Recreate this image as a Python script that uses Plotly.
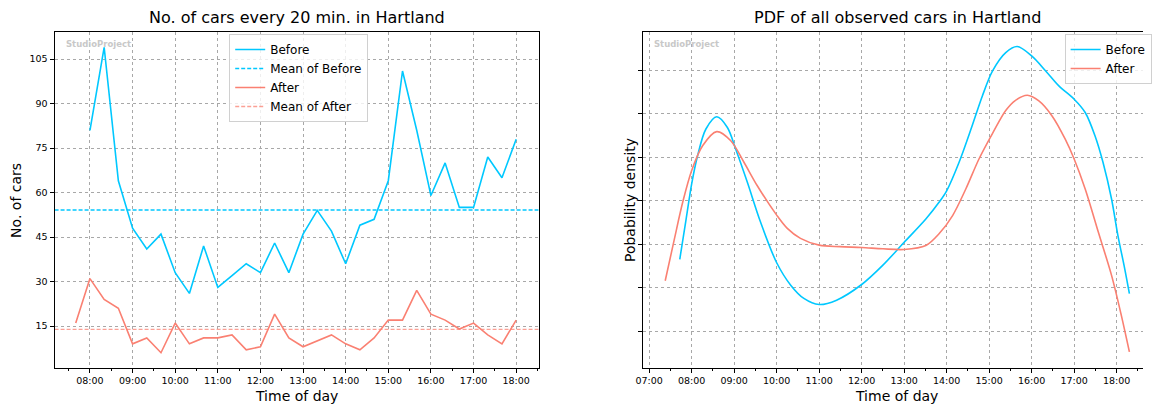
import numpy as np
import pandas as pd
import plotly.graph_objects as go

# ---------------- data ----------------
before_times = list(pd.date_range("2021-01-01 08:00", "2021-01-01 18:00", freq="20min").strftime("%H:%M"))
after_times = list(pd.date_range("2021-01-01 07:40", "2021-01-01 18:00", freq="20min").strftime("%H:%M"))

before_counts = [81, 109, 64, 48, 41, 46, 33, 26, 42, 28, 32, 36, 33, 43, 33, 46,
                 54, 47, 36, 49, 51, 64, 101, 81, 59, 70, 55, 55, 72, 65, 78]
after_counts = [16, 31, 24, 21, 9, 11, 6, 16, 9, 11, 11, 12, 7, 8, 19, 11,
                8, 10, 12, 9, 7, 11, 17, 17, 27, 19, 17, 14, 16, 12, 9, 17]

# PDF curves (time in hours, density)
pdf_before_t = [7.72, 7.87, 8.00, 8.14, 8.335, 8.59, 8.84, 9.035, 9.31, 9.62, 10.00,
                10.33, 10.64, 11.00, 11.41, 12.00, 12.50, 13.00, 13.51, 13.82, 14.00, 14.29,
                14.60, 14.84, 15.08, 15.39, 15.66, 16.00, 16.33, 16.64, 17.00, 17.26, 17.49,
                17.68, 17.88, 18.03, 18.19, 18.30]
pdf_before_v = [0.0531, 0.0717, 0.0878, 0.1008, 0.1130, 0.1186, 0.1137, 0.1038, 0.0885, 0.0702,
                0.0515, 0.0412, 0.0351, 0.0323, 0.0343, 0.0415, 0.0504, 0.0609, 0.0716,
                0.0793, 0.0846, 0.0976, 0.1145, 0.1282, 0.1397, 0.1481, 0.1509, 0.1466, 0.1397,
                0.1328, 0.1267, 0.1206, 0.1099, 0.0976, 0.0808, 0.0640, 0.0487, 0.0373]
pdf_after_t = [7.377, 7.595, 7.79, 8.00, 8.257, 8.59, 8.92, 9.23, 9.54, 10.00, 10.25, 10.56,
               11.00, 11.49, 12.00, 12.50, 13.00, 13.51, 13.82, 14.14, 14.45, 14.76, 15.08,
               15.39, 15.62, 15.90, 16.17, 16.48, 16.79, 17.00, 17.26, 17.57, 17.88, 18.11, 18.30]
pdf_after_v = [0.0432, 0.0626, 0.0794, 0.0939, 0.1053, 0.1118, 0.1076, 0.0977, 0.0870, 0.0734,
               0.0673, 0.0627, 0.0596, 0.0589, 0.0585, 0.0579, 0.0576, 0.0594, 0.0648, 0.0732,
               0.0854, 0.0992, 0.1110, 0.1215, 0.1262, 0.1285, 0.1259, 0.1190, 0.1083, 0.0992,
               0.0854, 0.0655, 0.0457, 0.0273, 0.0105]

hour_ticks = list(range(7, 19))
hour_labels = [f"{h:02d}:00" for h in hour_ticks]
count_ticks = [15, 30, 45, 60, 75, 90, 105]
density_ticks = [0.02, 0.04, 0.06, 0.08, 0.10, 0.12, 0.14]

LEFT_XRANGE = [7.17, 18.53]
BLUE = "#00c8ff"
RED = "#fa8072"
RED_LIGHT = "rgba(250,128,114,0.75)"
FONT = "DejaVu Sans"
W, H = 1152, 405


def to_hours(s):
    h, m = s.split(":")
    return int(h) + int(m) / 60.0


bx = [to_hours(t) for t in before_times]
ax_ = [to_hours(t) for t in after_times]
mean_before = float(np.mean(before_counts))
mean_after = float(np.mean(after_counts))

fig = go.Figure()

# ---------------- left chart ----------------
fig.add_trace(go.Scatter(x=bx, y=before_counts, mode="lines", name="Before",
                         line=dict(color=BLUE, width=1.6), xaxis="x", yaxis="y", legend="legend"))
fig.add_trace(go.Scatter(x=LEFT_XRANGE, y=[mean_before, mean_before], mode="lines",
                         name="Mean of Before", line=dict(color=BLUE, width=1.3, dash="4px,2px"),
                         xaxis="x", yaxis="y", legend="legend"))
fig.add_trace(go.Scatter(x=ax_, y=after_counts, mode="lines", name="After",
                         line=dict(color=RED, width=1.6), xaxis="x", yaxis="y", legend="legend"))
fig.add_trace(go.Scatter(x=LEFT_XRANGE, y=[mean_after, mean_after], mode="lines",
                         name="Mean of After", line=dict(color=RED_LIGHT, width=1.3, dash="4px,2px"),
                         xaxis="x", yaxis="y", legend="legend"))

# ---------------- right chart ----------------
fig.add_trace(go.Scatter(x=pdf_before_t, y=pdf_before_v, mode="lines", name="Before",
                         line=dict(color=BLUE, width=1.6, shape="spline", smoothing=0.9),
                         xaxis="x2", yaxis="y2", legend="legend2"))
fig.add_trace(go.Scatter(x=pdf_after_t, y=pdf_after_v, mode="lines", name="After",
                         line=dict(color=RED, width=1.6, shape="spline", smoothing=0.9),
                         xaxis="x2", yaxis="y2", legend="legend2"))

grid = dict(showgrid=True, gridcolor="#a8a8a8", gridwidth=0.8, griddash="dot", zeroline=False,
            showline=True, linecolor="#000000", linewidth=1, ticks="outside", ticklen=4,
            tickcolor="#000000", automargin=False,
            tickfont=dict(family=FONT, size=9.5, color="#000000"))

ydom = [1 - 368 / H, 1 - 32 / H]
fig.update_layout(
    width=W, height=H, margin=dict(l=0, r=0, t=0, b=0),
    plot_bgcolor="white", paper_bgcolor="white",
    font=dict(family=FONT, color="#000000"),
    xaxis=dict(domain=[55 / W, 543 / W], range=LEFT_XRANGE, anchor="y", mirror=True,
               tickmode="array", tickvals=hour_ticks, ticktext=hour_labels,
               minor=dict(tickmode="linear", tick0=0.5, dtick=1, ticks="outside", ticklen=2,
                          tickcolor="#000000", showgrid=False), **grid),
    yaxis=dict(domain=ydom, range=[0.85, 114.15], anchor="x", mirror=True,
               tickmode="array", tickvals=count_ticks, **grid),
    xaxis2=dict(domain=[647.7 / W, 1.0], range=[6.846, 18.62], anchor="y2", mirror=True,
                tickmode="array", tickvals=hour_ticks, ticktext=hour_labels,
                minor=dict(tickmode="linear", tick0=0.5, dtick=1, ticks="outside", ticklen=2,
                           tickcolor="#000000", showgrid=False), **grid),
    yaxis2=dict(domain=ydom, range=[0.0031, 0.1576], anchor="x2", mirror=False,
                tickmode="array", tickvals=density_ticks, showticklabels=False, **grid),
    legend=dict(x=231 / W, y=1 - 34 / H, xanchor="left", yanchor="top",
                bgcolor="rgba(255,255,255,0.8)", bordercolor="#d0d0d0", borderwidth=1,
                font=dict(family=FONT, size=12), itemwidth=30, tracegroupgap=0),
    legend2=dict(x=1073 / W, y=1 - 34 / H, xanchor="left", yanchor="top",
                 bgcolor="rgba(255,255,255,0.8)", bordercolor="#d0d0d0", borderwidth=1,
                 font=dict(family=FONT, size=12), itemwidth=30, tracegroupgap=0),
)

ann = []
# titles
ann.append(dict(text="No. of cars every 20 min. in Hartland", x=299 / W, y=1 - 18 / H,
                xref="paper", yref="paper", xanchor="center", yanchor="middle", showarrow=False,
                font=dict(family=FONT, size=16)))
ann.append(dict(text="PDF of all observed cars in Hartland", x=905 / W, y=1 - 18 / H,
                xref="paper", yref="paper", xanchor="center", yanchor="middle", showarrow=False,
                font=dict(family=FONT, size=16)))
# axis titles
ann.append(dict(text="Time of day", x=299 / W, y=1 - 396 / H, xref="paper", yref="paper",
                xanchor="center", yanchor="middle", showarrow=False, font=dict(family=FONT, size=14)))
ann.append(dict(text="Time of day", x=904 / W, y=1 - 396 / H, xref="paper", yref="paper",
                xanchor="center", yanchor="middle", showarrow=False, font=dict(family=FONT, size=14)))
ann.append(dict(text="No. of cars", x=16 / W, y=1 - 200 / H, xref="paper", yref="paper",
                xanchor="center", yanchor="middle", showarrow=False, textangle=-90,
                font=dict(family=FONT, size=14)))
ann.append(dict(text="Pobability density", x=635 / W, y=1 - 200 / H, xref="paper", yref="paper",
                xanchor="center", yanchor="middle", showarrow=False, textangle=-90,
                font=dict(family=FONT, size=14)))
# watermarks
for xw in (65, 657):
    ann.append(dict(text="<b>StudioProject</b>", x=xw / W, y=1 - 44 / H, xref="paper", yref="paper",
                    xanchor="left", yanchor="middle", showarrow=False,
                    font=dict(family=FONT, size=8.5, color="#c8c8c8")))
fig.update_layout(annotations=ann)

fig.write_html("out.html")
